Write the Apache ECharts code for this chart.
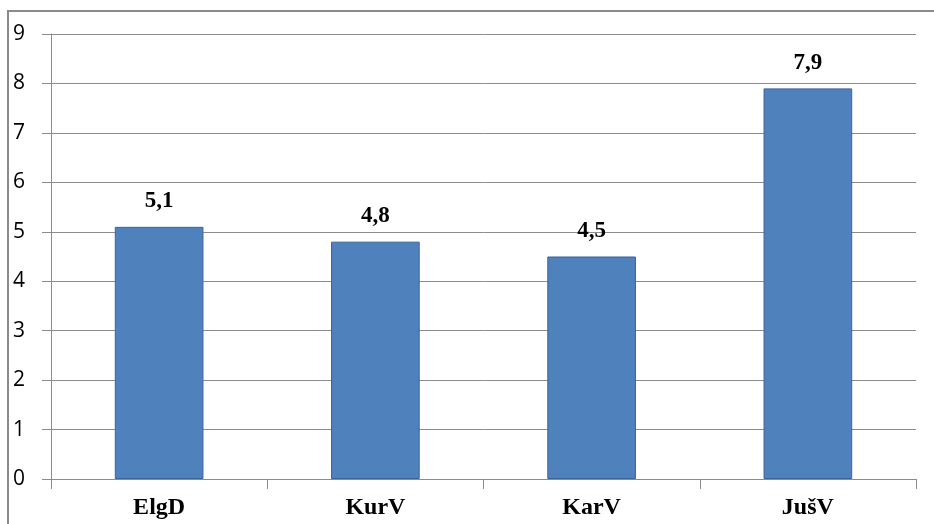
<!DOCTYPE html>
<html>
<head>
<meta charset="utf-8">
<script src="https://cdn.jsdelivr.net/npm/echarts@6/dist/echarts.min.js"></script>
<style>
  html, body { margin: 0; padding: 0; background: #fff; }
  #chart { width: 934px; height: 524px; }
</style>
</head>
<body>
<div id="chart"></div>
<script>
// Categories and values
var categories = ['ElgD', 'KurV', 'KarV', 'JušV'];
var values = [5.1, 4.8, 4.5, 7.9];
var yTicks = [0, 1, 2, 3, 4, 5, 6, 7, 8, 9];

var chart = echarts.init(document.getElementById('chart'), null, { renderer: 'canvas' });

var gridColor = '#8c8c8c';

chart.setOption({
  animation: false,
  backgroundColor: '#ffffff',
  graphic: [{
    type: 'rect',
    shape: { x: 8, y: 11, width: 1000, height: 600 },
    style: { fill: 'none', stroke: '#8a8a8a', lineWidth: 2 },
    silent: true
  }],
  grid: { left: 51, right: 18, top: 34, bottom: 45 },
  xAxis: {
    type: 'category',
    data: categories,
    boundaryGap: true,
    axisLine: { show: true, lineStyle: { color: gridColor, width: 1 } },
    axisTick: { show: true, length: 10, lineStyle: { color: gridColor } },
    axisLabel: {
      margin: 17,
      fontFamily: '"Liberation Serif", "Times New Roman", serif',
      fontWeight: 'bold',
      fontSize: 24,
      color: '#000'
    }
  },
  yAxis: {
    type: 'value',
    min: yTicks[0],
    max: yTicks[yTicks.length - 1],
    interval: 1,
    axisLine: { show: true, lineStyle: { color: gridColor, width: 1 } },
    axisTick: { show: true, length: 9, lineStyle: { color: gridColor } },
    splitLine: { show: true, lineStyle: { color: gridColor, width: 1 } },
    axisLabel: {
      margin: 26,
      fontFamily: '"Open Sans", "Liberation Sans", sans-serif',
      fontSize: 21,
      color: '#000'
    }
  },
  series: [{
    type: 'bar',
    data: values,
    barWidth: '41%',
    itemStyle: { color: '#4f81bd', borderColor: '#3a6595', borderWidth: 1 },
    label: {
      show: true,
      position: 'top',
      distance: 14,
      fontFamily: '"Liberation Serif", "Times New Roman", serif',
      fontWeight: 'bold',
      fontSize: 23,
      color: '#000',
      formatter: function (p) { return String(p.value).replace('.', ','); }
    }
  }]
});
</script>
</body>
</html>
